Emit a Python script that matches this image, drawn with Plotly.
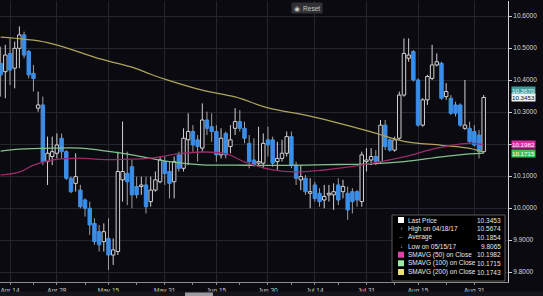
import plotly.graph_objects as go
import pandas as pd

# ---------------- data ----------------
dates = pd.bdate_range("2017-04-12", periods=104)

open_ = [10.452, 10.426, 10.483, 10.437, 10.499, 10.541, 10.489, 10.421, 10.312, 10.322,
         10.145, 10.161, 10.171, 10.218, 10.176, 10.093, 10.077, 10.056, 10.025, 9.999,
         9.952, 9.926, 9.895, 9.905, 9.853, 9.864, 10.088, 10.108, 10.129, 10.067,
         10.067, 10.072, 10.020, 10.056, 10.082, 10.145, 10.114, 10.082, 10.166, 10.124,
         10.213, 10.239, 10.213, 10.187, 10.275, 10.254, 10.239, 10.166, 10.233, 10.192,
         10.249, 10.270, 10.249, 10.202, 10.150, 10.140, 10.140, 10.213, 10.213, 10.145,
         10.155, 10.171, 10.223, 10.134, 10.088, 10.093, 10.046, 10.072, 10.046, 10.025,
         10.041, 10.041, 10.072, 10.051, 10.046, 10.051, 10.051, 10.020, 10.145, 10.150,
         10.161, 10.145, 10.259, 10.213, 10.181, 10.218, 10.353, 10.468, 10.489, 10.400,
         10.259, 10.338, 10.405, 10.447, 10.452, 10.348, 10.343, 10.322, 10.322, 10.249,
         10.249, 10.239, 10.228, 10.176]
high = [10.504, 10.510, 10.530, 10.520, 10.5674, 10.551, 10.494, 10.447, 10.364, 10.348,
        10.223, 10.223, 10.233, 10.233, 10.181, 10.098, 10.171, 10.072, 10.030, 10.020,
        9.968, 9.947, 9.952, 9.968, 9.905, 10.176, 10.270, 10.176, 10.150, 10.098,
        10.098, 10.098, 10.098, 10.114, 10.161, 10.161, 10.145, 10.161, 10.176, 10.249,
        10.296, 10.259, 10.228, 10.327, 10.301, 10.296, 10.259, 10.249, 10.239, 10.259,
        10.312, 10.306, 10.270, 10.228, 10.218, 10.254, 10.233, 10.254, 10.223, 10.207,
        10.213, 10.239, 10.239, 10.145, 10.134, 10.103, 10.093, 10.082, 10.062, 10.072,
        10.072, 10.077, 10.093, 10.088, 10.067, 10.062, 10.056, 10.176, 10.187, 10.187,
        10.181, 10.275, 10.275, 10.218, 10.223, 10.364, 10.530, 10.530, 10.494, 10.405,
        10.343, 10.416, 10.510, 10.483, 10.457, 10.390, 10.353, 10.332, 10.327, 10.400,
        10.270, 10.259, 10.244, 10.353]
low = [10.348, 10.343, 10.384, 10.374, 10.437, 10.468, 10.405, 10.364, 10.301, 10.134,
       10.072, 10.134, 10.155, 10.155, 10.088, 10.046, 10.051, 9.999, 9.973, 9.916,
       9.885, 9.864, 9.864, 9.8065, 9.822, 9.853, 10.020, 10.009, 9.999, 10.030,
       10.041, 9.983, 10.004, 10.051, 10.077, 10.072, 10.030, 10.030, 10.114, 10.114,
       10.134, 10.176, 10.145, 10.176, 10.228, 10.207, 10.145, 10.155, 10.155, 10.171,
       10.228, 10.239, 10.202, 10.124, 10.129, 10.134, 10.124, 10.161, 10.129, 10.119,
       10.145, 10.161, 10.124, 10.072, 10.056, 10.041, 9.999, 10.020, 10.004, 9.999,
       10.020, 9.994, 10.009, 10.030, 9.963, 9.983, 10.004, 10.004, 10.114, 10.134,
       10.134, 10.140, 10.181, 10.176, 10.176, 10.213, 10.348, 10.457, 10.395, 10.254,
       10.254, 10.322, 10.400, 10.442, 10.338, 10.338, 10.291, 10.286, 10.254, 10.244,
       10.202, 10.192, 10.155, 10.171]
close = [10.416, 10.478, 10.431, 10.499, 10.541, 10.478, 10.416, 10.405, 10.322, 10.145,
         10.171, 10.176, 10.197, 10.176, 10.093, 10.051, 10.098, 10.004, 9.999, 9.947,
         9.895, 9.885, 9.926, 9.853, 9.869, 10.114, 10.114, 10.082, 10.041, 10.041,
         10.072, 10.004, 10.056, 10.088, 10.150, 10.108, 10.077, 10.145, 10.124, 10.218,
         10.239, 10.197, 10.192, 10.275, 10.249, 10.239, 10.166, 10.218, 10.166, 10.213,
         10.270, 10.249, 10.218, 10.145, 10.134, 10.145, 10.202, 10.197, 10.140, 10.155,
         10.171, 10.223, 10.134, 10.093, 10.098, 10.051, 10.051, 10.030, 10.020, 10.036,
         10.046, 10.051, 10.025, 10.067, 9.994, 10.020, 10.025, 10.166, 10.150, 10.161,
         10.145, 10.259, 10.192, 10.181, 10.213, 10.353, 10.483, 10.478, 10.400, 10.259,
         10.338, 10.411, 10.447, 10.457, 10.343, 10.364, 10.296, 10.296, 10.259, 10.259,
         10.207, 10.197, 10.176, 10.3453]

# moving averages read at selected bars
sma50_idx = [0, 4, 7, 11, 17, 21, 32, 38, 43, 48, 52, 58, 63, 74, 86, 93, 100, 103]
sma50_val = [10.103, 10.112, 10.134, 10.150, 10.156, 10.152, 10.156, 10.170, 10.175, 10.170,
             10.144, 10.119, 10.113, 10.128, 10.160, 10.187, 10.203, 10.1982]
sma100_idx = [0, 4, 11, 17, 21, 28, 36, 43, 50, 57, 65, 72, 79, 86, 94, 100, 103]
sma100_val = [10.178, 10.184, 10.187, 10.187, 10.181, 10.166, 10.145, 10.135, 10.134, 10.133,
              10.134, 10.136, 10.138, 10.145, 10.160, 10.169, 10.1715]
sma200_idx = [0, 10, 21, 28, 32, 36, 43, 50, 57, 65, 71, 79, 86, 94, 100, 103]
sma200_val = [10.534, 10.517, 10.467, 10.440, 10.418, 10.398, 10.368, 10.347, 10.313, 10.290,
              10.269, 10.238, 10.208, 10.196, 10.186, 10.1743]

tick_dates = ["2017-04-14", "2017-04-28", "2017-05-15", "2017-05-31", "2017-06-15",
              "2017-06-30", "2017-07-14", "2017-07-31", "2017-08-15", "2017-08-31"]
tick_text = ["Apr 14", "Apr 28", "May 15", "May 31", "Jun 15",
             "Jun 30", "Jul 14", "Jul 31", "Aug 15", "Aug 31"]
minor_dates = ["2017-04-21", "2017-05-08", "2017-05-23", "2017-06-08", "2017-06-22",
               "2017-07-07", "2017-07-21", "2017-08-08", "2017-08-23"]
y_ticks = [9.8, 9.9, 10.0, 10.1, 10.2, 10.3, 10.4, 10.5, 10.6]
y_hidden = [10.2]  # covered by the price flags in the original

legend_labels = ["Last Price", "High on 04/18/17", "Average", "Low on 05/15/17",
                 "SMAVG (50) on Close", "SMAVG (100) on Close", "SMAVG (200) on Close"]
legend_values = ["10.3453", "10.5674", "10.1854", "9.8065", "10.1982", "10.1715", "10.1743"]

marker_labels = [10.3670, 10.3453, 10.1982, 10.1715]

# ---------------- styling ----------------
BG = "#0a0a10"
GRID = "#25252d"
BLUE = "#3a8ee8"
WHITE = "#d2d2d2"
WICK_DN = "#a0a0a0"
C50 = "#9c2c68"
C100 = "#86c090"
C200 = "#b0a35c"
FONT = "Liberation Sans, Arial, sans-serif"

W, H = 543, 296
ML, MR, MT, MB = 0, 35, 1, 14
PW = W - ML - MR
PH = H - MT - MB

pos = {d.strftime("%Y-%m-%d"): i for i, d in enumerate(dates)}
x = list(range(len(dates)))
down = [c < o for o, c in zip(open_, close)]


def px_x(px):
    return px / PW


def px_y(py):
    return (MT + PH - py) / PH


fig = go.Figure()

# candle bodies
fig.add_trace(go.Bar(
    x=x,
    base=[min(o, c) for o, c in zip(open_, close)],
    y=[abs(c - o) for o, c in zip(open_, close)],
    width=0.74,
    marker=dict(color=[BLUE if d else BG for d in down],
                line=dict(color=[BLUE if d else WHITE for d in down], width=1)),
    showlegend=False, hoverinfo="skip",
))

# wicks (outside the bodies)
for is_down, col in [(True, WICK_DN), (False, WHITE)]:
    wx, wy = [], []
    for i in x:
        if down[i] != is_down:
            continue
        top, bot = max(open_[i], close[i]), min(open_[i], close[i])
        wx += [i, i, None, i, i, None]
        wy += [high[i], top, None, bot, low[i], None]
    fig.add_trace(go.Scatter(x=wx, y=wy, mode="lines", line=dict(color=col, width=1),
                             showlegend=False, hoverinfo="skip"))

for idx, val, col in [(sma200_idx, sma200_val, C200), (sma100_idx, sma100_val, C100),
                      (sma50_idx, sma50_val, C50)]:
    fig.add_trace(go.Scatter(x=idx, y=val, mode="lines",
                             line=dict(color=col, width=1.3, shape="spline", smoothing=1),
                             showlegend=False, hoverinfo="skip"))

shapes = []
annotations = []

# legend box
shapes.append(dict(type="rect", xref="paper", yref="paper",
                   x0=px_x(392), x1=px_x(505), y0=px_y(281), y1=px_y(215),
                   fillcolor="#000000", line=dict(color="#5a5a5a", width=1), layer="above"))
row_py = [220, 228.7, 237.3, 246, 254.7, 263.3, 272]
swatch = ["#ffffff", None, None, None, "#e040a8", "#9de8a8", "#e8e070"]
icons = [None, "↑", "–", "↓", None, None, None]
for k, lab in enumerate(legend_labels):
    yy = row_py[k]
    if swatch[k]:
        shapes.append(dict(type="rect", xref="paper", yref="paper",
                           x0=px_x(398), x1=px_x(404), y0=px_y(yy + 3), y1=px_y(yy - 3),
                           fillcolor=swatch[k], line=dict(width=0), layer="above"))
    if icons[k]:
        annotations.append(dict(xref="paper", yref="paper", x=px_x(401), y=px_y(yy),
                                text=icons[k], showarrow=False, xanchor="center", yanchor="middle",
                                font=dict(size=6, color="#bbbbbb", family=FONT)))
    annotations.append(dict(xref="paper", yref="paper", x=px_x(406), y=px_y(yy),
                            text=lab, showarrow=False, xanchor="left", yanchor="middle",
                            font=dict(size=6.5, color="#e8e8e8", family=FONT)))
    annotations.append(dict(xref="paper", yref="paper", x=px_x(503), y=px_y(yy),
                            text=legend_values[k], showarrow=False, xanchor="right", yanchor="middle",
                            font=dict(size=6.5, color="#e8e8e8", family=FONT)))

# price flags on the right axis
flag_style = [("#3f9a9a", "#e8ffff"), ("#f2f2f2", "#111111"), ("#e02aa0", "#ffffff"), ("#3fbf5a", "#ffffff")]
for v, (bg, fg) in zip(marker_labels, flag_style):
    annotations.append(dict(xref="paper", yref="y", x=px_x(511), y=v,
                            text=f"{v:.4f}", showarrow=False, xanchor="left", yanchor="middle",
                            bgcolor=bg, borderpad=0,
                            font=dict(size=6.2, color=fg, family=FONT)))

# reset button
annotations.append(dict(xref="paper", yref="paper", x=px_x(307), y=px_y(8),
                        text="◉  Reset", showarrow=False, xanchor="center", yanchor="middle",
                        bgcolor="#303035", borderpad=1.5,
                        font=dict(size=6.5, color="#c8c8c8", family=FONT)))

# bottom strip
shapes.append(dict(type="rect", xref="paper", yref="paper",
                   x0=0, x1=W / PW, y0=px_y(296), y1=px_y(291.5),
                   fillcolor="#15151b", line=dict(width=0), layer="above"))
shapes.append(dict(type="rect", xref="paper", yref="paper",
                   x0=px_x(185), x1=px_x(213), y0=px_y(296), y1=px_y(292.5),
                   fillcolor="#9a9aa0", line=dict(width=0), layer="above"))

x0_idx = 2 - 10 / 4.69
x1_idx = 2 + (PW - 10) / 4.69
y_top = 10.6 + (16 - MT) / 320
y_bot = 10.6 - (MT + PH - 16) / 320

fig.update_layout(
    width=W, height=H,
    margin=dict(l=ML, r=MR, t=MT, b=MB),
    paper_bgcolor=BG, plot_bgcolor=BG,
    showlegend=False, barmode="overlay",
    shapes=shapes, annotations=annotations,
    font=dict(family=FONT, size=7, color="#d0d0d0"),
    xaxis=dict(range=[x0_idx, x1_idx],
               tickmode="array", tickvals=[pos[d] for d in tick_dates], ticktext=tick_text,
               showgrid=True, gridcolor=GRID, gridwidth=1, zeroline=False,
               showline=True, linecolor="#8a8a8a", linewidth=1,
               ticks="outside", ticklen=2, tickcolor="#8a8a8a",
               tickfont=dict(size=6.5, color="#cfcfcf", family=FONT),
               minor=dict(tickvals=[pos[d] for d in minor_dates], ticks="outside",
                          ticklen=2, tickcolor="#8a8a8a", showgrid=False),
               fixedrange=True),
    yaxis=dict(range=[y_bot, y_top], side="right",
               tickmode="array", tickvals=y_ticks,
               ticktext=["" if v in y_hidden else f"{v:.4f}" for v in y_ticks],
               showgrid=True, gridcolor=GRID, gridwidth=1, zeroline=False,
               showline=True, linecolor="#d0d0d0", linewidth=1, mirror=True,
               ticks="outside", ticklen=3, tickcolor="#d0d0d0",
               tickfont=dict(size=6.5, color="#d8d8d8", family=FONT),
               fixedrange=True),
)

fig.write_html("out.html")
